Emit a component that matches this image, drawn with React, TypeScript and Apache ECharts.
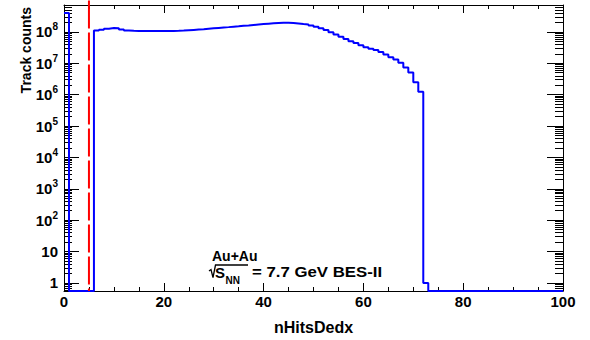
import React, { useEffect, useRef } from "react";
import * as echarts from "echarts";

// ---- data ----
const xMin = 0;
const xMax = 100;
const binWidth = 1;
const yMin = 0.553;
const yMax = 7.2e8;
const cutValue = 5;
const cutLineTop = 1e9;

// Track counts per nHitsDedx bin (bin i covers [i, i+1))
const counts: number[] = [
  4.0e8, 0, 0, 0, 0, 0, 1.10e8, 1.18e8, 1.27e8, 1.33e8,
  1.31e8, 1.20e8, 1.11e8, 1.08e8, 1.07e8, 1.06e8, 1.06e8, 1.06e8, 1.06e8, 1.07e8,
  1.07e8, 1.07e8, 1.08e8, 1.10e8, 1.13e8, 1.16e8, 1.19e8, 1.22e8, 1.26e8, 1.30e8,
  1.34e8, 1.38e8, 1.42e8, 1.47e8, 1.51e8, 1.57e8, 1.61e8, 1.67e8, 1.72e8, 1.77e8,
  1.82e8, 1.87e8, 1.91e8, 1.94e8, 1.94e8, 1.93e8, 1.86e8, 1.78e8, 1.71e8, 1.61e8,
  1.47e8, 1.30e8, 1.14e8, 9.8e7, 8.25e7, 6.95e7, 5.94e7, 5.08e7, 4.40e7, 3.77e7,
  3.27e7, 2.93e7, 2.64e7, 2.29e7, 1.89e7, 1.57e7, 1.32e7, 1.04e7, 7.3e6, 5.1e6,
  2.5e6, 1.23e6, 1, 0, 0, 0, 0, 0, 0, 0,
  0, 0, 0, 0, 0, 0, 0, 0, 0, 0,
  0, 0, 0, 0, 0, 0, 0, 0, 0, 0,
];

const xTickInterval = 20;
const FONT = '"Liberation Sans", Arial, Helvetica, sans-serif';

export default function App() {
  const ref = useRef<HTMLDivElement>(null);

  useEffect(() => {
    document.body.style.margin = "0";
    const chart = echarts.init(ref.current!, null, { renderer: "svg" });

    const histData: number[][] = counts.map((c, i) => [
      xMin + i * binWidth,
      c > 0 ? c : yMin,
    ]);
    const last = counts[counts.length - 1];
    histData.push([xMax, last > 0 ? last : yMin]);

    const yLabel = (v: number) => {
      const e = Math.round(Math.log10(v));
      if (e === 0) return "{b|1}";
      if (e === 1) return "{b|10}";
      return `{b|10}{s|${e}}`;
    };

    const axisLine = { show: true, onZero: false, lineStyle: { color: "#000", width: 1 } };

    const yCommon: any = {
      type: "log",
      logBase: 10,
      min: yMin,
      max: yMax,
      splitNumber: 9,
      splitLine: { show: false },
      axisLine,
    };
    const xCommon: any = {
      type: "value",
      min: xMin,
      max: xMax,
      interval: xTickInterval,
      splitLine: { show: false },
      axisLine,
      axisTick: { show: true, inside: true, length: 8, lineStyle: { color: "#000" } },
      minorTick: { show: true, splitNumber: 4, length: 4, lineStyle: { color: "#000" } },
    };
    const yTicks = (major: number, minor: number) => ({
      axisTick: { show: true, inside: true, length: major, lineStyle: { color: "#000" } },
      minorTick: { show: true, splitNumber: 9, length: minor, lineStyle: { color: "#000" } },
    });

    chart.setOption({
      animation: false,
      backgroundColor: "#fff",
      textStyle: { fontFamily: FONT },
      grid: { left: 64, right: 27, top: 5, bottom: 40, containLabel: false },
      xAxis: [
        {
          ...xCommon,
          position: "bottom",
          axisLabel: {
            margin: 3,
            fontSize: 15,
            fontWeight: "bold",
            color: "#000",
            fontFamily: FONT,
          },
          name: "nHitsDedx",
          nameLocation: "middle",
          nameGap: 28,
          nameTextStyle: {
            fontSize: 16,
            fontWeight: "bold",
            color: "#000",
            fontFamily: FONT,
          },
        },
        {
          ...xCommon,
          position: "top",
          axisLabel: { show: false },
        },
      ],
      yAxis: [
        {
          ...yCommon,
          position: "left",
          ...yTicks(15, 8),
          axisLabel: {
            margin: 6,
            color: "#000",
            showMinLabel: false,
            showMaxLabel: false,
            formatter: yLabel,
            rich: {
              b: { fontSize: 15, fontWeight: "bold", lineHeight: 20, fontFamily: FONT, color: "#000" },
              s: { fontSize: 10, fontWeight: "bold", lineHeight: 10, verticalAlign: "top", fontFamily: FONT, color: "#000" },
            },
          },
        },
        {
          ...yCommon,
          position: "right",
          ...yTicks(16, 8),
          axisLabel: { show: false },
        },
      ],
      series: [
        {
          type: "line",
          name: "nHitsDedx",
          xAxisIndex: 0,
          yAxisIndex: 0,
          step: "end",
          showSymbol: false,
          symbol: "none",
          clip: true,
          lineStyle: { color: "#0000ff", width: 2 },
          data: histData,
          z: 3,
        },
        {
          type: "line",
          name: "cut",
          xAxisIndex: 0,
          yAxisIndex: 0,
          showSymbol: false,
          symbol: "none",
          clip: false,
          lineStyle: { color: "#ff0000", width: 2, type: [28, 4] },
          data: [
            [cutValue, cutLineTop],
            [cutValue, yMin],
          ],
          z: 4,
        },
      ],
      graphic: [
        {
          type: "text",
          x: 26,
          y: 7,
          rotation: Math.PI / 2,
          style: {
            text: "Track counts",
            font: `bold 14px ${FONT}`,
            fill: "#000",
            align: "right",
            verticalAlign: "middle",
          },
        },
        {
          type: "text",
          x: 212,
          y: 256,
          style: {
            text: "Au+Au",
            font: `bold 14px ${FONT}`,
            fill: "#000",
            align: "left",
            verticalAlign: "middle",
          },
        },
        {
          type: "polyline",
          shape: {
            points: [
              [209, 271],
              [211, 269.5],
              [213, 277.5],
              [215.5, 265],
              [248, 265],
            ],
          },
          style: { stroke: "#000", lineWidth: 1.3, fill: null },
        },
        {
          type: "text",
          x: 215,
          y: 272,
          style: {
            text: "S",
            font: `bold 15px ${FONT}`,
            fill: "#000",
            align: "left",
            verticalAlign: "middle",
          },
        },
        {
          type: "text",
          x: 225.5,
          y: 280,
          style: {
            text: "NN",
            font: `bold 10px ${FONT}`,
            fill: "#000",
            align: "left",
            verticalAlign: "middle",
          },
        },
        {
          type: "text",
          x: 252,
          y: 272,
          scaleX: 1.12,
          style: {
            text: "= 7.7 GeV BES-II",
            font: `bold 15px ${FONT}`,
            fill: "#000",
            align: "left",
            verticalAlign: "middle",
          },
        },
      ],
    });

    return () => chart.dispose();
  }, []);

  return (
    <div
      ref={ref}
      style={{ width: 590, height: 340, position: "absolute", left: 0, top: 0, background: "#fff" }}
    />
  );
}
